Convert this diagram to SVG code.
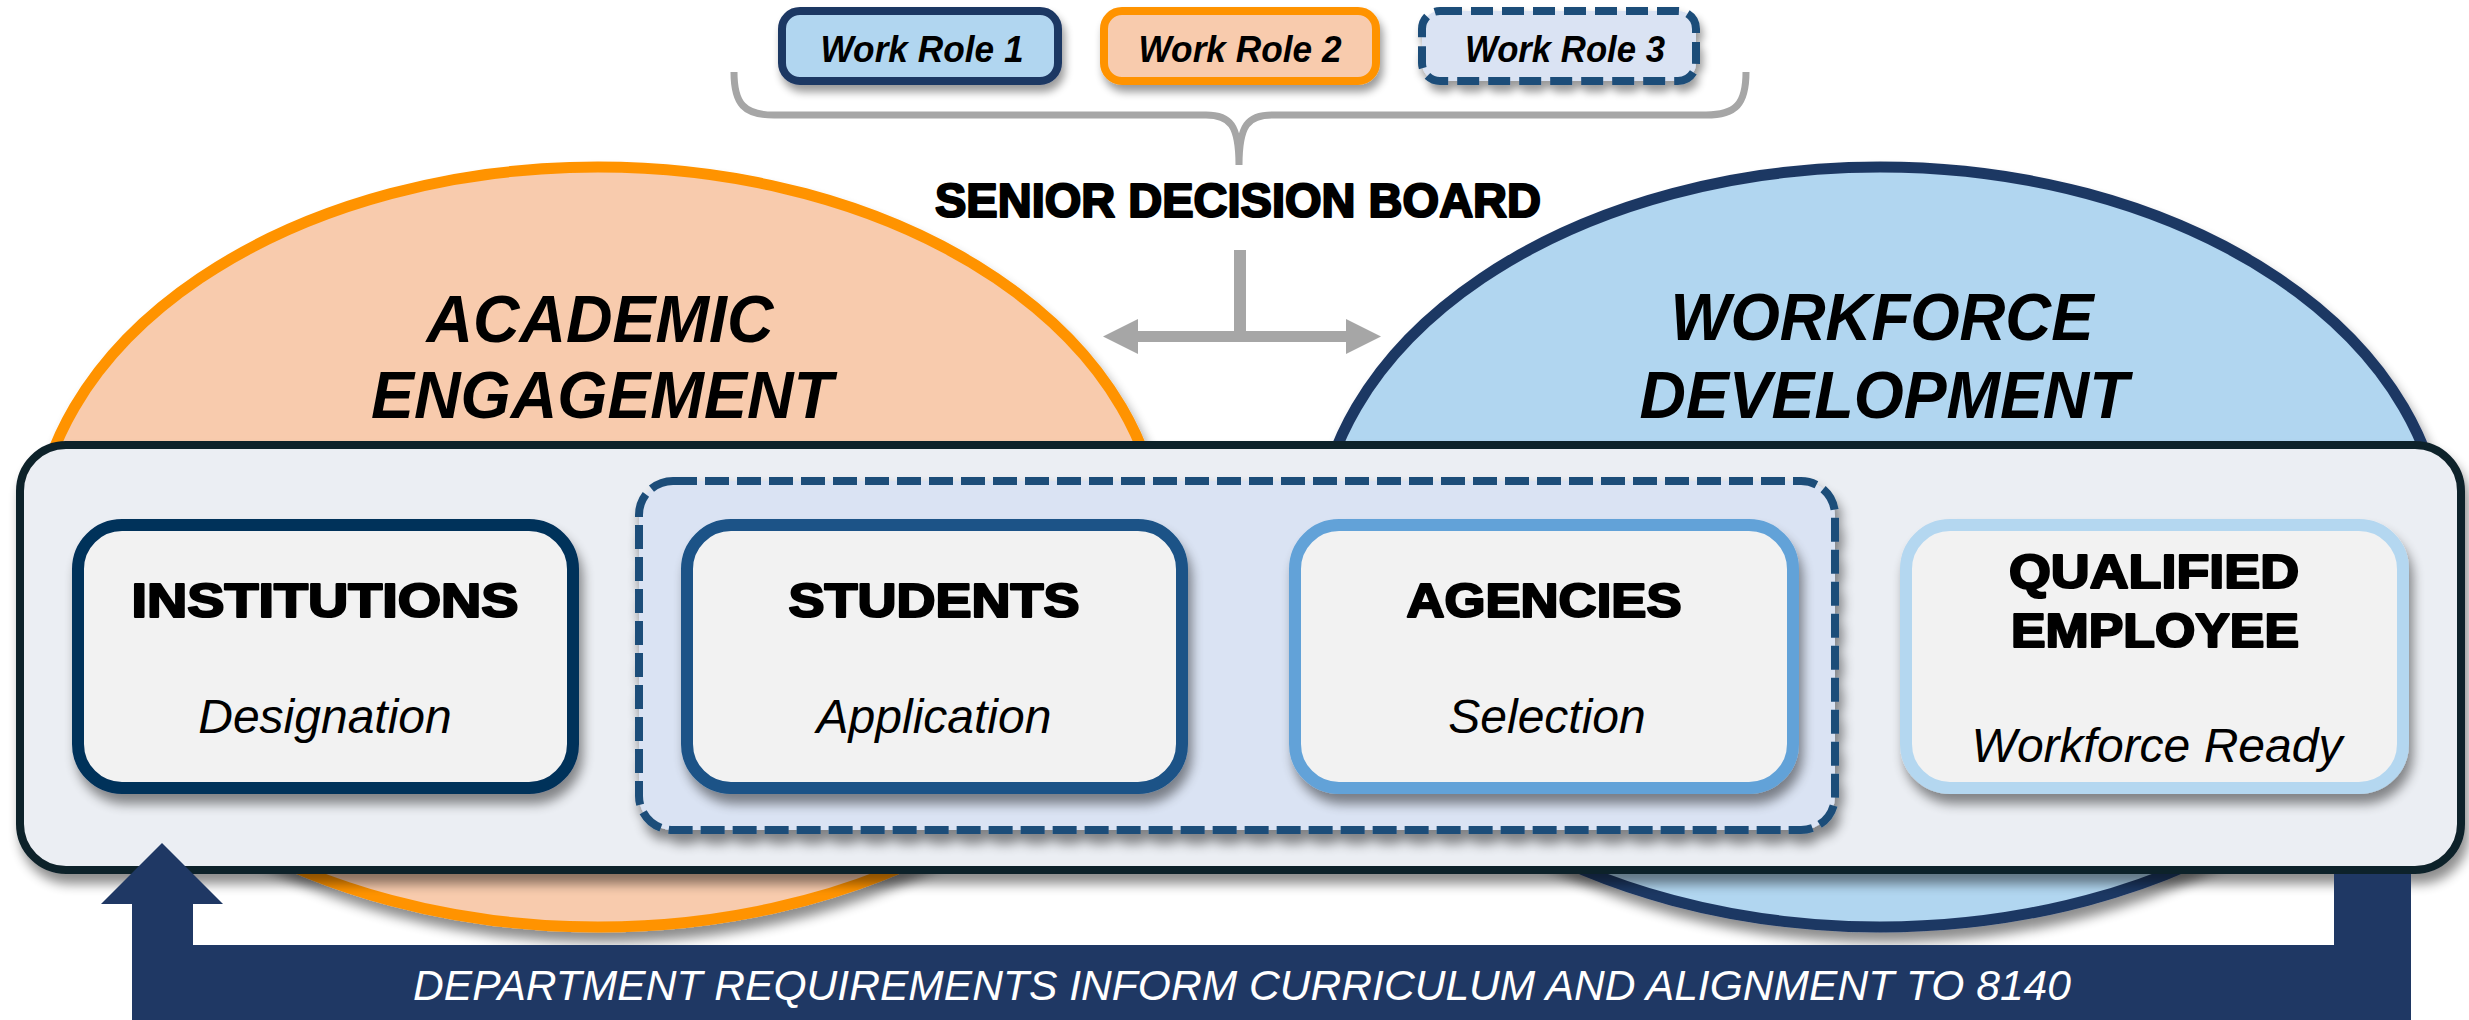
<svg xmlns="http://www.w3.org/2000/svg" width="2469" height="1020" viewBox="0 0 2469 1020">
<defs>
<filter id="sh" x="-10%" y="-15%" width="125%" height="140%">
<feGaussianBlur in="SourceAlpha" stdDeviation="6"/>
<feOffset dx="4" dy="10" result="o"/>
<feComponentTransfer><feFuncA type="linear" slope="0.45"/></feComponentTransfer>
<feMerge><feMergeNode/><feMergeNode in="SourceGraphic"/></feMerge>
</filter>
<filter id="shs" x="-10%" y="-30%" width="125%" height="180%">
<feGaussianBlur in="SourceAlpha" stdDeviation="4"/>
<feOffset dx="3" dy="7"/>
<feComponentTransfer><feFuncA type="linear" slope="0.4"/></feComponentTransfer>
<feMerge><feMergeNode/><feMergeNode in="SourceGraphic"/></feMerge>
</filter>
</defs>
<style>
.hv{font-family:"Liberation Sans",Arial,sans-serif;font-weight:bold;fill:#000;stroke:#000;stroke-width:2.2;stroke-linejoin:round;text-anchor:middle}
.big{font-family:"Liberation Sans",Arial,sans-serif;font-weight:bold;font-style:italic;font-size:66px;fill:#000;text-anchor:middle}
.sub{font-family:"Liberation Sans",Arial,sans-serif;font-style:italic;font-size:48px;fill:#000;text-anchor:middle}
.wr{font-family:"Liberation Sans",Arial,sans-serif;font-weight:bold;font-style:italic;font-size:37px;fill:#000;text-anchor:middle}
.node{fill:#F2F2F2;stroke-width:12}
.gray{fill:#A6A6A6}
</style>
<rect width="2469" height="1020" fill="#FFFFFF"/>

<g id="academic-engagement">
<ellipse cx="598" cy="547" rx="563" ry="380" fill="#F8CBAD" stroke="#FF9300" stroke-width="11" filter="url(#sh)"/>
<text class="big" x="600" y="342" textLength="347" lengthAdjust="spacingAndGlyphs">ACADEMIC</text>
<text class="big" x="602" y="418" textLength="462" lengthAdjust="spacingAndGlyphs">ENGAGEMENT</text>
</g>
<g id="workforce-development">
<ellipse cx="1880" cy="547" rx="563" ry="380" fill="#B1D6F0" stroke="#1F3864" stroke-width="11" filter="url(#sh)"/>
<text class="big" x="1882" y="340" textLength="423" lengthAdjust="spacingAndGlyphs">WORKFORCE</text>
<text class="big" x="1884" y="418" textLength="489" lengthAdjust="spacingAndGlyphs">DEVELOPMENT</text>
</g>

<g id="work-role-1">
<rect x="782" y="11" width="276" height="70" rx="18" fill="#B1D6F0" stroke="#1F3864" stroke-width="8" filter="url(#shs)"/>
<text class="wr" x="922" y="62" textLength="203" lengthAdjust="spacingAndGlyphs">Work Role 1</text>
</g>
<g id="work-role-2">
<rect x="1104" y="11" width="272" height="70" rx="18" fill="#F8CBAD" stroke="#FF9300" stroke-width="8" filter="url(#shs)"/>
<text class="wr" x="1240" y="62" textLength="203" lengthAdjust="spacingAndGlyphs">Work Role 2</text>
</g>
<g id="work-role-3">
<rect x="1422" y="11" width="274" height="70" rx="18" fill="#DAE3F3" stroke="#1F4E79" stroke-width="8" stroke-dasharray="22 9" filter="url(#shs)"/>
<text class="wr" x="1565" y="62" textLength="200" lengthAdjust="spacingAndGlyphs">Work Role 3</text>
</g>

<g id="senior-decision-board">
<text class="hv" x="1238" y="217" font-size="48" textLength="606" lengthAdjust="spacingAndGlyphs">SENIOR DECISION BOARD</text>
</g>

<g id="connectors">
<path d="M734,72 C734,104 744,115 774,115 L1206,115 C1230,115 1239,125 1239,165 C1239,125 1248,115 1272,115 L1706,115 C1736,115 1746,104 1746,72" fill="none" stroke="#A6A6A6" stroke-width="7"/>
<rect class="gray" x="1234" y="250" width="12" height="92"/>
<rect class="gray" x="1136" y="331" width="212" height="11"/>
<polygon class="gray" points="1103,336.5 1138,319 1138,354"/>
<polygon class="gray" points="1381,336.5 1346,319 1346,354"/>
</g>

<g id="panel">
<rect x="20" y="445" width="2441" height="425" rx="46" fill="#EBEEF3" stroke="#10222A" stroke-width="8" filter="url(#sh)"/>
</g>

<g id="group-box">
<rect x="639" y="481" width="1196" height="349" rx="34" fill="#DAE3F3" stroke="#1F4E79" stroke-width="8" stroke-dasharray="24 8" filter="url(#sh)"/>
</g>

<g id="institutions">
<rect class="node" x="78" y="525" width="495" height="263" rx="44" stroke="#02305A" filter="url(#sh)"/>
<text class="hv" x="325" y="617" font-size="48" textLength="387" lengthAdjust="spacingAndGlyphs">INSTITUTIONS</text>
<text class="sub" x="325" y="733">Designation</text>
</g>
<g id="students">
<rect class="node" x="687" y="525" width="495" height="263" rx="44" stroke="#1A5287" filter="url(#sh)"/>
<text class="hv" x="934" y="617" font-size="48" textLength="291" lengthAdjust="spacingAndGlyphs">STUDENTS</text>
<text class="sub" x="934" y="733">Application</text>
</g>
<g id="agencies">
<rect class="node" x="1295" y="525" width="498" height="263" rx="44" stroke="#62A2D8" filter="url(#sh)"/>
<text class="hv" x="1544" y="617" font-size="48" textLength="275" lengthAdjust="spacingAndGlyphs">AGENCIES</text>
<text class="sub" x="1547" y="733">Selection</text>
</g>
<g id="qualified-employee">
<rect class="node" x="1906" y="525" width="497" height="263" rx="44" stroke="#B4D7F0" filter="url(#sh)"/>
<text class="hv" x="2154" y="588" font-size="48" textLength="290" lengthAdjust="spacingAndGlyphs">QUALIFIED</text>
<text class="hv" x="2155" y="647" font-size="48" textLength="288" lengthAdjust="spacingAndGlyphs">EMPLOYEE</text>
<text class="sub" x="2157" y="762">Workforce Ready</text>
</g>

<g id="feedback-arrow">
<path d="M101,904 L162,843 L223,904 L193,904 L193,945 L2334,945 L2334,874 L2411,874 L2411,1020 L132,1020 L132,904 Z" fill="#1F3864"/>
<text x="1242" y="1000" font-family="'Liberation Sans',Arial,sans-serif" font-style="italic" font-size="42" fill="#FFFFFF" text-anchor="middle" textLength="1658" lengthAdjust="spacingAndGlyphs">DEPARTMENT REQUIREMENTS INFORM CURRICULUM AND ALIGNMENT TO 8140</text>
</g>
</svg>
